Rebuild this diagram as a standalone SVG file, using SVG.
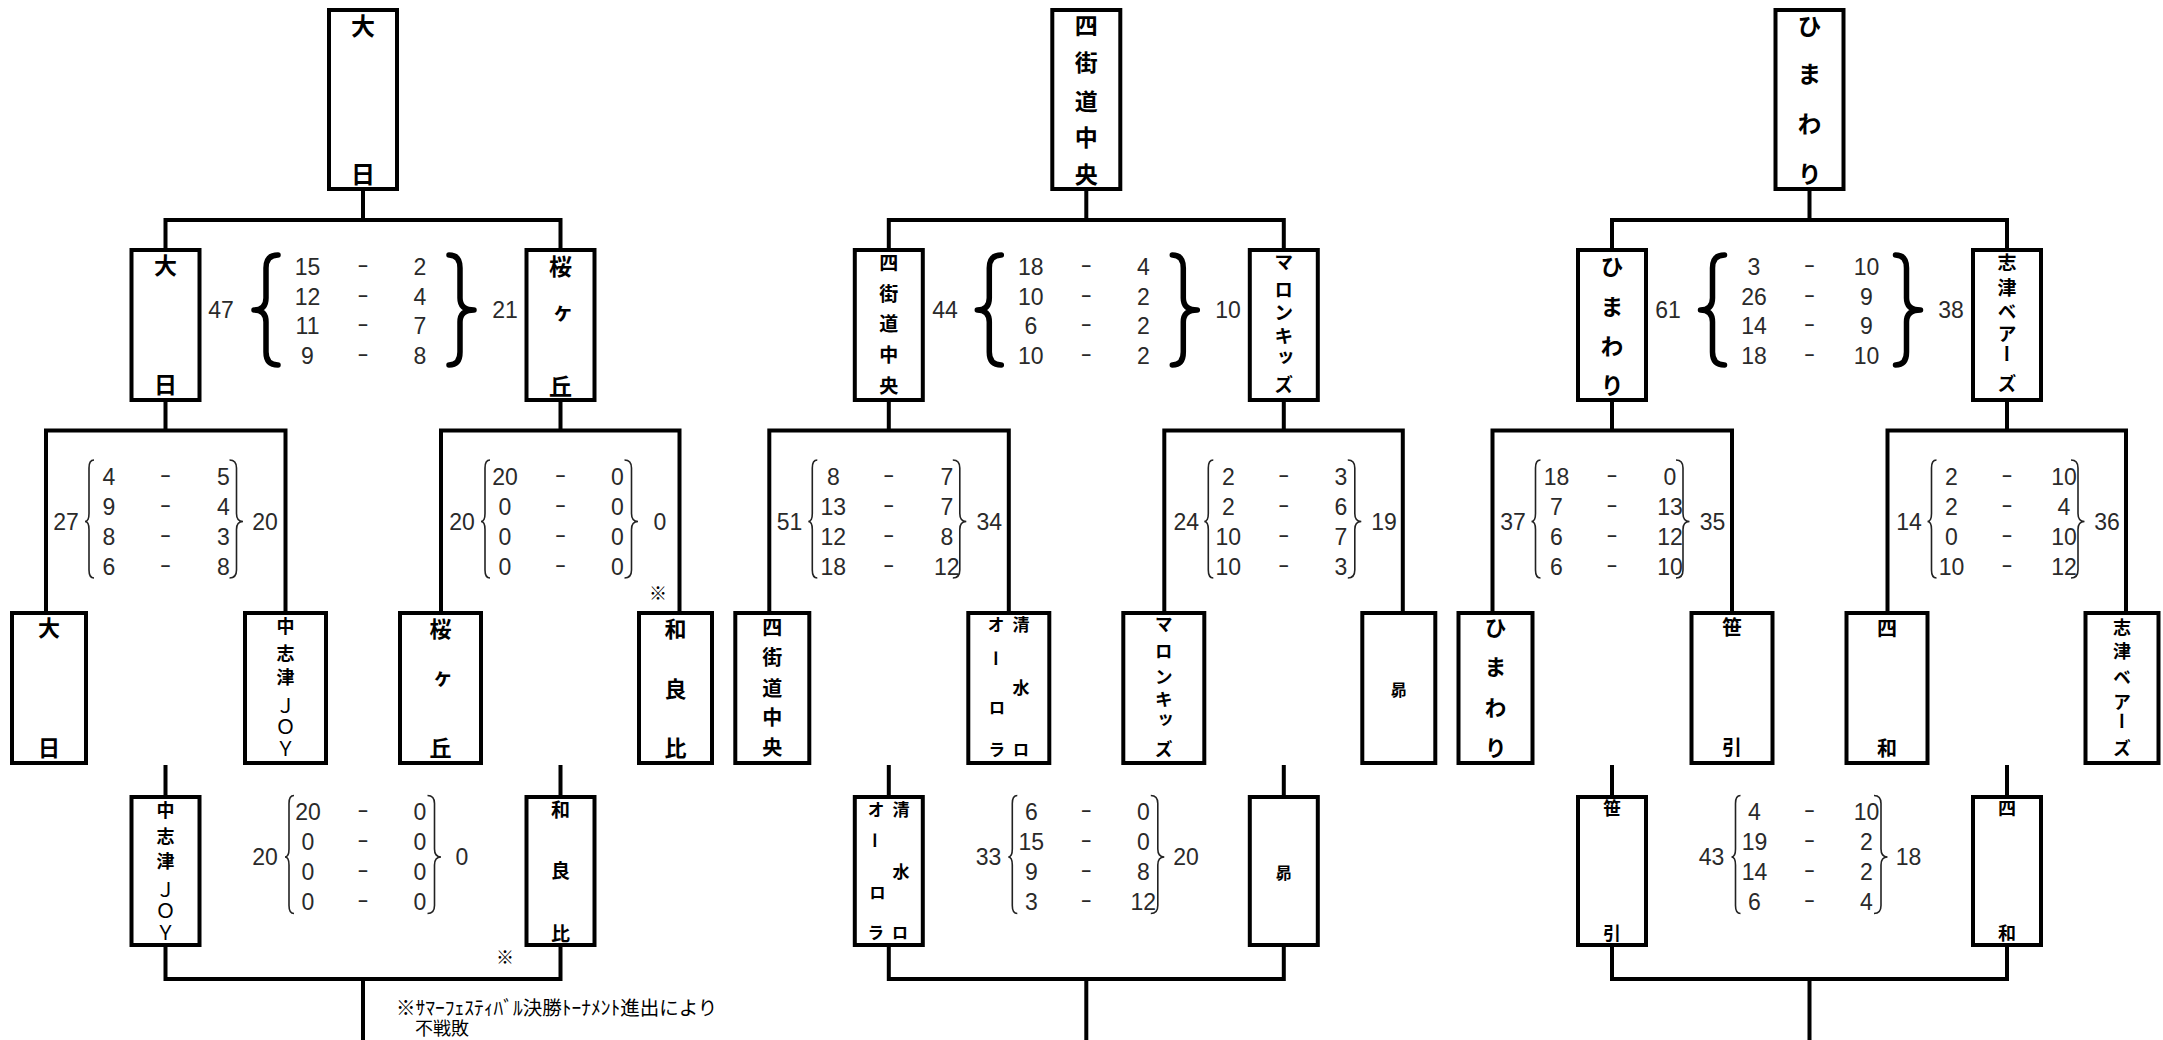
<svg xmlns="http://www.w3.org/2000/svg" width="2163" height="1040" viewBox="0 0 2163 1040">
<style>
.box{fill:#fff;stroke:#000;stroke-width:4}
.ln{fill:none;stroke:#000;stroke-width:4}
.nm{font-family:"Noto Sans CJK JP","Noto Sans CJK SC",sans-serif;font-weight:700;text-anchor:middle;fill:#000}
.v{writing-mode:vertical-rl;dominant-baseline:central}
.lt{font-weight:400}
.n24{font-size:24px}.n23{font-size:23px}.n22{font-size:22px}.n20{font-size:20px}.n19{font-size:19px}.n18{font-size:18px}.n17{font-size:17px}.n16{font-size:16px}
.sc{font-family:"Liberation Sans",Arial,sans-serif;font-size:23px;text-anchor:middle;dominant-baseline:central;fill:#2a2a2a}
.bb{fill:none;stroke:#000;stroke-width:5.5;stroke-linecap:round;stroke-linejoin:round}
.tb{fill:none;stroke:#222;stroke-width:1.6}
.note{font-family:"Liberation Sans","Noto Sans CJK JP",sans-serif;dominant-baseline:central;fill:#000}
</style>
<defs>
<path id="bigL" class="bb" d="M24,-55 Q12,-55 12,-42 L12,-12 Q12,0 0,0 Q12,0 12,12 L12,42 Q12,55 24,55"/>
<path id="bigR" class="bb" d="M-25,-55 Q-14,-55 -14,-42 L-14,-12 Q-14,0 0,0 Q-14,0 -14,12 L-14,42 Q-14,55 -25,55"/>
<path id="thinL" class="tb" d="M9,-61.5 Q4,-61.5 4,-53.5 L4,-8 Q4,0 0,0 Q4,0 4,8 L4,48.5 Q4,56.5 9,56.5"/>
<path id="thinR" class="tb" d="M-13.5,-61.5 Q-6.5,-61.5 -6.5,-53.5 L-6.5,-8 Q-6.5,0 0,0 Q-6.5,0 -6.5,8 L-6.5,48.5 Q-6.5,56.5 -13.5,56.5"/>
</defs>
<rect width="2163" height="1040" fill="#fff"/>
<g id="connectors" class="ln">
<path d="M363,191V220 M165.5,248V220H560.5V248 M165.5,402V430.5 M46,611V430.5H285.5V611 M560.5,402V430.5 M441,611V430.5H679.5V611 M165.5,765V795 M560.5,765V795 M165.5,947V979H560.5V947 M363,979V1040"/>
<path d="M1086.3,191V220 M888.8,248V220H1283.8V248 M888.8,402V430.5 M769.3,611V430.5H1008.8V611 M1283.8,402V430.5 M1164.3,611V430.5H1402.8V611 M888.8,765V795 M1283.8,765V795 M888.8,947V979H1283.8V947 M1086.3,979V1040"/>
<path d="M1809.5,191V220 M1612,248V220H2007V248 M1612,402V430.5 M1492.5,611V430.5H1732V611 M2007,402V430.5 M1887.5,611V430.5H2126V611 M1612,765V795 M2007,765V795 M1612,947V979H2007V947 M1809.5,979V1040"/>
</g>

<!-- Left bracket -->
<g id="L-top"><rect class="box" x="329" y="10" width="68" height="179"/>
<text class="nm v n24"><tspan x="363" y="26">大</tspan><tspan x="363" y="174">日</tspan></text></g>
<g id="L-semi1"><rect class="box" x="131.5" y="250" width="68" height="150"/>
<text class="nm v n23"><tspan x="165.5" y="265">大</tspan><tspan x="165.5" y="384">日</tspan></text></g>
<g id="L-semi2"><rect class="box" x="526.5" y="250" width="68" height="150"/>
<text class="nm v n23"><tspan x="560.5" y="266">桜</tspan><tspan x="560.5" y="313">ヶ</tspan><tspan x="560.5" y="386">丘</tspan></text></g>
<g id="L-qf1"><rect class="box" x="12" y="613" width="74" height="150"/>
<text class="nm v n22"><tspan x="49" y="627.5">大</tspan><tspan x="49" y="748">日</tspan></text></g>
<g id="L-qf2"><rect class="box" x="245" y="613" width="81" height="150"/>
<text class="nm v n18"><tspan x="285.5" y="626.5">中</tspan><tspan x="285.5" y="653">志</tspan><tspan x="285.5" y="677.5">津</tspan><tspan class="lt" x="285.5" y="706" font-size="20">Ｊ</tspan><tspan class="lt" x="285.5" y="727" font-size="20">Ｏ</tspan><tspan class="lt" x="285.5" y="749" font-size="20">Ｙ</tspan></text></g>
<g id="L-qf3"><rect class="box" x="400" y="613" width="81" height="150"/>
<text class="nm v n22"><tspan x="440.5" y="628.5">桜</tspan><tspan x="440.5" y="678.5">ヶ</tspan><tspan x="440.5" y="748">丘</tspan></text></g>
<g id="L-qf4"><rect class="box" x="639" y="613" width="73" height="150"/>
<text class="nm v n22"><tspan x="675.5" y="628.5">和</tspan><tspan x="675.5" y="689">良</tspan><tspan x="675.5" y="748">比</tspan></text></g>
<g id="L-low1"><rect class="box" x="131.5" y="797" width="68" height="148"/>
<text class="nm v n18"><tspan x="165.5" y="810">中</tspan><tspan x="165.5" y="836">志</tspan><tspan x="165.5" y="861">津</tspan><tspan class="lt" x="165.5" y="890" font-size="20">Ｊ</tspan><tspan class="lt" x="165.5" y="911" font-size="20">Ｏ</tspan><tspan class="lt" x="165.5" y="933" font-size="20">Ｙ</tspan></text></g>
<g id="L-low2"><rect class="box" x="526.5" y="797" width="68" height="148"/>
<text class="nm v n19"><tspan x="560.5" y="810">和</tspan><tspan x="560.5" y="870.5">良</tspan><tspan x="560.5" y="934">比</tspan></text></g>

<g id="L-score-semi">
<use href="#bigL" x="254" y="310"/><use href="#bigR" x="474" y="310"/>
<text class="sc" x="221" y="310">47</text><text class="sc" x="505" y="310">21</text>
<text class="sc" x="307.5" y="267">15</text><text class="sc" transform="translate(363 264) scale(1.5 1)">-</text><text class="sc" x="420" y="267">2</text>
<text class="sc" x="307.5" y="296.5">12</text><text class="sc" transform="translate(363 293.5) scale(1.5 1)">-</text><text class="sc" x="420" y="296.5">4</text>
<text class="sc" x="307.5" y="326">11</text><text class="sc" transform="translate(363 323) scale(1.5 1)">-</text><text class="sc" x="420" y="326">7</text>
<text class="sc" x="307.5" y="355.5">9</text><text class="sc" transform="translate(363 352.5) scale(1.5 1)">-</text><text class="sc" x="420" y="355.5">8</text>
</g>
<g id="L-score-qf1">
<use href="#thinL" x="85" y="521.5"/><use href="#thinR" x="243" y="521.5"/>
<text class="sc" x="66" y="521.5">27</text><text class="sc" x="265" y="521.5">20</text>
<text class="sc" x="109" y="477">4</text><text class="sc" transform="translate(165.5 474) scale(1.5 1)">-</text><text class="sc" x="223.5" y="477">5</text>
<text class="sc" x="109" y="507">9</text><text class="sc" transform="translate(165.5 504) scale(1.5 1)">-</text><text class="sc" x="223.5" y="507">4</text>
<text class="sc" x="109" y="537">8</text><text class="sc" transform="translate(165.5 534) scale(1.5 1)">-</text><text class="sc" x="223.5" y="537">3</text>
<text class="sc" x="109" y="567">6</text><text class="sc" transform="translate(165.5 564) scale(1.5 1)">-</text><text class="sc" x="223.5" y="567">8</text>
</g>
<g id="L-score-qf2">
<use href="#thinL" x="481" y="521.5"/><use href="#thinR" x="638" y="521.5"/>
<text class="sc" x="462" y="521.5">20</text><text class="sc" x="660" y="521.5">0</text>
<text class="sc" x="505" y="477">20</text><text class="sc" transform="translate(560.5 474) scale(1.5 1)">-</text><text class="sc" x="617.5" y="477">0</text>
<text class="sc" x="505" y="507">0</text><text class="sc" transform="translate(560.5 504) scale(1.5 1)">-</text><text class="sc" x="617.5" y="507">0</text>
<text class="sc" x="505" y="537">0</text><text class="sc" transform="translate(560.5 534) scale(1.5 1)">-</text><text class="sc" x="617.5" y="537">0</text>
<text class="sc" x="505" y="567">0</text><text class="sc" transform="translate(560.5 564) scale(1.5 1)">-</text><text class="sc" x="617.5" y="567">0</text>
</g>
<g id="L-score-low">
<use href="#thinL" x="285" y="857"/><use href="#thinR" x="441" y="857"/>
<text class="sc" x="265" y="857">20</text><text class="sc" x="462" y="857">0</text>
<text class="sc" x="308" y="812">20</text><text class="sc" transform="translate(363 809) scale(1.5 1)">-</text><text class="sc" x="420" y="812">0</text>
<text class="sc" x="308" y="842">0</text><text class="sc" transform="translate(363 839) scale(1.5 1)">-</text><text class="sc" x="420" y="842">0</text>
<text class="sc" x="308" y="872">0</text><text class="sc" transform="translate(363 869) scale(1.5 1)">-</text><text class="sc" x="420" y="872">0</text>
<text class="sc" x="308" y="902">0</text><text class="sc" transform="translate(363 899) scale(1.5 1)">-</text><text class="sc" x="420" y="902">0</text>
</g>
<g id="notes">
<text class="note" x="658" y="594" text-anchor="middle" font-size="18">※</text>
<text class="note" x="505" y="958" text-anchor="middle" font-size="18">※</text>
<text class="note"><tspan x="396" y="1008" font-size="19.5">※ｻﾏｰﾌｪｽﾃｨﾊﾞﾙ決勝ﾄｰﾅﾒﾝﾄ進出により</tspan><tspan x="415" y="1029" font-size="18">不戦敗</tspan></text>
</g>

<!-- Middle bracket -->
<g id="M-top"><rect class="box" x="1052.3" y="10" width="68" height="179"/>
<text class="nm v n23"><tspan x="1086.3" y="25">四</tspan><tspan x="1086.3" y="62.5">街</tspan><tspan x="1086.3" y="101">道</tspan><tspan x="1086.3" y="137.5">中</tspan><tspan x="1086.3" y="174">央</tspan></text></g>
<g id="M-semi1"><rect class="box" x="854.8" y="250" width="68" height="150"/>
<text class="nm v n19"><tspan x="888.8" y="263">四</tspan><tspan x="888.8" y="294">街</tspan><tspan x="888.8" y="324">道</tspan><tspan x="888.8" y="355">中</tspan><tspan x="888.8" y="386">央</tspan></text></g>
<g id="M-semi2"><rect class="box" x="1249.8" y="250" width="68" height="150"/>
<text class="nm v n19"><tspan x="1283.8" y="262">マ</tspan><tspan x="1283.8" y="290">ロ</tspan><tspan x="1283.8" y="313">ン</tspan><tspan x="1283.8" y="336">キ</tspan><tspan x="1283.8" y="358">ッ</tspan><tspan x="1283.8" y="385">ズ</tspan></text></g>
<g id="M-qf1"><rect class="box" x="735.3" y="613" width="74" height="150"/>
<text class="nm v n20"><tspan x="772.3" y="627.5">四</tspan><tspan x="772.3" y="657">街</tspan><tspan x="772.3" y="688">道</tspan><tspan x="772.3" y="717">中</tspan><tspan x="772.3" y="747">央</tspan></text></g>
<g id="M-qf2"><rect class="box" x="968.3" y="613" width="81" height="150"/>
<text class="nm v n17"><tspan x="996" y="624.5">オ</tspan><tspan x="1021" y="624.5">清</tspan><tspan x="996" y="659">ー</tspan><tspan x="1021" y="688">水</tspan><tspan x="997" y="708">ロ</tspan><tspan x="997" y="750">ラ</tspan><tspan x="1021" y="750">ロ</tspan></text></g>
<g id="M-qf3"><rect class="box" x="1123.3" y="613" width="81" height="150"/>
<text class="nm v n18"><tspan x="1163.8" y="624.5">マ</tspan><tspan x="1163.8" y="651">ロ</tspan><tspan x="1163.8" y="677">ン</tspan><tspan x="1163.8" y="699">キ</tspan><tspan x="1163.8" y="720">ッ</tspan><tspan x="1163.8" y="749">ズ</tspan></text></g>
<g id="M-qf4"><rect class="box" x="1362.3" y="613" width="73" height="150"/>
<text class="nm v n16"><tspan x="1398.8" y="690">昴</tspan></text></g>
<g id="M-low1"><rect class="box" x="854.8" y="797" width="68" height="148"/>
<text class="nm v n17"><tspan x="876" y="809.5">オ</tspan><tspan x="901" y="809.5">清</tspan><tspan x="875" y="841">ー</tspan><tspan x="901" y="871.5">水</tspan><tspan x="877.5" y="892.5">ロ</tspan><tspan x="876" y="932.5">ラ</tspan><tspan x="900" y="932.5">ロ</tspan></text></g>
<g id="M-low2"><rect class="box" x="1249.8" y="797" width="68" height="148"/>
<text class="nm v n16"><tspan x="1283.8" y="872.5">昴</tspan></text></g>

<g id="M-score-semi">
<use href="#bigL" x="977.3" y="310"/><use href="#bigR" x="1197.3" y="310"/>
<text class="sc" x="945" y="310">44</text><text class="sc" x="1228" y="310">10</text>
<text class="sc" x="1030.8" y="267">18</text><text class="sc" transform="translate(1086.3 264) scale(1.5 1)">-</text><text class="sc" x="1143.3" y="267">4</text>
<text class="sc" x="1030.8" y="296.5">10</text><text class="sc" transform="translate(1086.3 293.5) scale(1.5 1)">-</text><text class="sc" x="1143.3" y="296.5">2</text>
<text class="sc" x="1030.8" y="326">6</text><text class="sc" transform="translate(1086.3 323) scale(1.5 1)">-</text><text class="sc" x="1143.3" y="326">2</text>
<text class="sc" x="1030.8" y="355.5">10</text><text class="sc" transform="translate(1086.3 352.5) scale(1.5 1)">-</text><text class="sc" x="1143.3" y="355.5">2</text>
</g>
<g id="M-score-qf1">
<use href="#thinL" x="808.3" y="521.5"/><use href="#thinR" x="966.3" y="521.5"/>
<text class="sc" x="789.5" y="521.5">51</text><text class="sc" x="989.3" y="521.5">34</text>
<text class="sc" x="833.3" y="477">8</text><text class="sc" transform="translate(888.8 474) scale(1.5 1)">-</text><text class="sc" x="946.8" y="477">7</text>
<text class="sc" x="833.3" y="507">13</text><text class="sc" transform="translate(888.8 504) scale(1.5 1)">-</text><text class="sc" x="946.8" y="507">7</text>
<text class="sc" x="833.3" y="537">12</text><text class="sc" transform="translate(888.8 534) scale(1.5 1)">-</text><text class="sc" x="946.8" y="537">8</text>
<text class="sc" x="833.3" y="567">18</text><text class="sc" transform="translate(888.8 564) scale(1.5 1)">-</text><text class="sc" x="946.8" y="567">12</text>
</g>
<g id="M-score-qf2">
<use href="#thinL" x="1204.3" y="521.5"/><use href="#thinR" x="1361.3" y="521.5"/>
<text class="sc" x="1186.3" y="521.5">24</text><text class="sc" x="1384" y="521.5">19</text>
<text class="sc" x="1228.3" y="477">2</text><text class="sc" transform="translate(1283.8 474) scale(1.5 1)">-</text><text class="sc" x="1340.8" y="477">3</text>
<text class="sc" x="1228.3" y="507">2</text><text class="sc" transform="translate(1283.8 504) scale(1.5 1)">-</text><text class="sc" x="1340.8" y="507">6</text>
<text class="sc" x="1228.3" y="537">10</text><text class="sc" transform="translate(1283.8 534) scale(1.5 1)">-</text><text class="sc" x="1340.8" y="537">7</text>
<text class="sc" x="1228.3" y="567">10</text><text class="sc" transform="translate(1283.8 564) scale(1.5 1)">-</text><text class="sc" x="1340.8" y="567">3</text>
</g>
<g id="M-score-low">
<use href="#thinL" x="1008.3" y="857"/><use href="#thinR" x="1164.3" y="857"/>
<text class="sc" x="988.5" y="857">33</text><text class="sc" x="1186" y="857">20</text>
<text class="sc" x="1031.3" y="812">6</text><text class="sc" transform="translate(1086.3 809) scale(1.5 1)">-</text><text class="sc" x="1143.3" y="812">0</text>
<text class="sc" x="1031.3" y="842">15</text><text class="sc" transform="translate(1086.3 839) scale(1.5 1)">-</text><text class="sc" x="1143.3" y="842">0</text>
<text class="sc" x="1031.3" y="872">9</text><text class="sc" transform="translate(1086.3 869) scale(1.5 1)">-</text><text class="sc" x="1143.3" y="872">8</text>
<text class="sc" x="1031.3" y="902">3</text><text class="sc" transform="translate(1086.3 899) scale(1.5 1)">-</text><text class="sc" x="1143.3" y="902">12</text>
</g>

<!-- Right bracket -->
<g id="R-top"><rect class="box" x="1775.5" y="10" width="68" height="179"/>
<text class="nm v n24"><tspan x="1809.5" y="26">ひ</tspan><tspan x="1809.5" y="74">ま</tspan><tspan x="1809.5" y="124">わ</tspan><tspan x="1809.5" y="174">り</tspan></text></g>
<g id="R-semi1"><rect class="box" x="1578" y="250" width="68" height="150"/>
<text class="nm v n23"><tspan x="1612" y="266">ひ</tspan><tspan x="1612" y="306">ま</tspan><tspan x="1612" y="346">わ</tspan><tspan x="1612" y="385">り</tspan></text></g>
<g id="R-semi2"><rect class="box" x="1973" y="250" width="68" height="150"/>
<text class="nm v n19"><tspan x="2007" y="263">志</tspan><tspan x="2007" y="288">津</tspan><tspan x="2007" y="312">ベ</tspan><tspan x="2007" y="334">ア</tspan><tspan x="2007" y="354">ー</tspan><tspan x="2007" y="384">ズ</tspan></text></g>
<g id="R-qf1"><rect class="box" x="1458.5" y="613" width="74" height="150"/>
<text class="nm v n22"><tspan x="1495.5" y="627.5">ひ</tspan><tspan x="1495.5" y="667">ま</tspan><tspan x="1495.5" y="708">わ</tspan><tspan x="1495.5" y="748">り</tspan></text></g>
<g id="R-qf2"><rect class="box" x="1691.5" y="613" width="81" height="150"/>
<text class="nm v n20"><tspan x="1732" y="627.5">笹</tspan><tspan x="1732" y="747">引</tspan></text></g>
<g id="R-qf3"><rect class="box" x="1846.5" y="613" width="81" height="150"/>
<text class="nm v n20"><tspan x="1887" y="628">四</tspan><tspan x="1887" y="748">和</tspan></text></g>
<g id="R-qf4"><rect class="box" x="2085.5" y="613" width="73" height="150"/>
<text class="nm v n18"><tspan x="2122" y="627.5">志</tspan><tspan x="2122" y="651">津</tspan><tspan x="2122" y="677.5">ベ</tspan><tspan x="2122" y="702">ア</tspan><tspan x="2122" y="721">ー</tspan><tspan x="2122" y="748">ズ</tspan></text></g>
<g id="R-low1"><rect class="box" x="1578" y="797" width="68" height="148"/>
<text class="nm v n18"><tspan x="1612" y="808">笹</tspan><tspan x="1612" y="933">引</tspan></text></g>
<g id="R-low2"><rect class="box" x="1973" y="797" width="68" height="148"/>
<text class="nm v n18"><tspan x="2007" y="808">四</tspan><tspan x="2007" y="933">和</tspan></text></g>

<g id="R-score-semi">
<use href="#bigL" x="1700.5" y="310"/><use href="#bigR" x="1920.5" y="310"/>
<text class="sc" x="1668" y="310">61</text><text class="sc" x="1951" y="310">38</text>
<text class="sc" x="1754" y="267">3</text><text class="sc" transform="translate(1809.5 264) scale(1.5 1)">-</text><text class="sc" x="1866.5" y="267">10</text>
<text class="sc" x="1754" y="296.5">26</text><text class="sc" transform="translate(1809.5 293.5) scale(1.5 1)">-</text><text class="sc" x="1866.5" y="296.5">9</text>
<text class="sc" x="1754" y="326">14</text><text class="sc" transform="translate(1809.5 323) scale(1.5 1)">-</text><text class="sc" x="1866.5" y="326">9</text>
<text class="sc" x="1754" y="355.5">18</text><text class="sc" transform="translate(1809.5 352.5) scale(1.5 1)">-</text><text class="sc" x="1866.5" y="355.5">10</text>
</g>
<g id="R-score-qf1">
<use href="#thinL" x="1531.5" y="521.5"/><use href="#thinR" x="1689.5" y="521.5"/>
<text class="sc" x="1513" y="521.5">37</text><text class="sc" x="1712.5" y="521.5">35</text>
<text class="sc" x="1556.5" y="477">18</text><text class="sc" transform="translate(1612 474) scale(1.5 1)">-</text><text class="sc" x="1670" y="477">0</text>
<text class="sc" x="1556.5" y="507">7</text><text class="sc" transform="translate(1612 504) scale(1.5 1)">-</text><text class="sc" x="1670" y="507">13</text>
<text class="sc" x="1556.5" y="537">6</text><text class="sc" transform="translate(1612 534) scale(1.5 1)">-</text><text class="sc" x="1670" y="537">12</text>
<text class="sc" x="1556.5" y="567">6</text><text class="sc" transform="translate(1612 564) scale(1.5 1)">-</text><text class="sc" x="1670" y="567">10</text>
</g>
<g id="R-score-qf2">
<use href="#thinL" x="1927.5" y="521.5"/><use href="#thinR" x="2084.5" y="521.5"/>
<text class="sc" x="1909" y="521.5">14</text><text class="sc" x="2107" y="521.5">36</text>
<text class="sc" x="1951.5" y="477">2</text><text class="sc" transform="translate(2007 474) scale(1.5 1)">-</text><text class="sc" x="2064" y="477">10</text>
<text class="sc" x="1951.5" y="507">2</text><text class="sc" transform="translate(2007 504) scale(1.5 1)">-</text><text class="sc" x="2064" y="507">4</text>
<text class="sc" x="1951.5" y="537">0</text><text class="sc" transform="translate(2007 534) scale(1.5 1)">-</text><text class="sc" x="2064" y="537">10</text>
<text class="sc" x="1951.5" y="567">10</text><text class="sc" transform="translate(2007 564) scale(1.5 1)">-</text><text class="sc" x="2064" y="567">12</text>
</g>
<g id="R-score-low">
<use href="#thinL" x="1731.5" y="857"/><use href="#thinR" x="1887.5" y="857"/>
<text class="sc" x="1711.5" y="857">43</text><text class="sc" x="1908.5" y="857">18</text>
<text class="sc" x="1754.5" y="812">4</text><text class="sc" transform="translate(1809.5 809) scale(1.5 1)">-</text><text class="sc" x="1866.5" y="812">10</text>
<text class="sc" x="1754.5" y="842">19</text><text class="sc" transform="translate(1809.5 839) scale(1.5 1)">-</text><text class="sc" x="1866.5" y="842">2</text>
<text class="sc" x="1754.5" y="872">14</text><text class="sc" transform="translate(1809.5 869) scale(1.5 1)">-</text><text class="sc" x="1866.5" y="872">2</text>
<text class="sc" x="1754.5" y="902">6</text><text class="sc" transform="translate(1809.5 899) scale(1.5 1)">-</text><text class="sc" x="1866.5" y="902">4</text>
</g>
</svg>
